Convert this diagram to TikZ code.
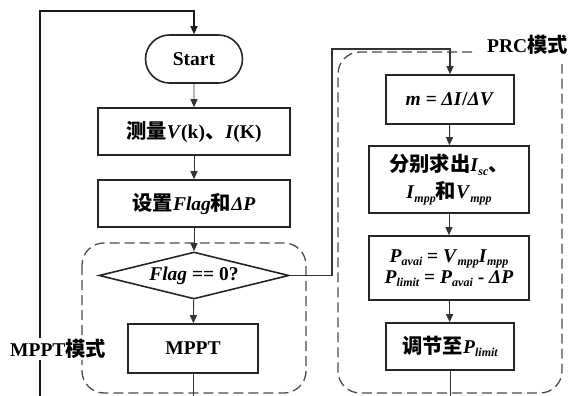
\documentclass[tikz,border=0pt]{standalone}
\usepackage{fontspec}
\setmainfont{Liberation Serif}
\newfontfamily\zhf{Noto Sans CJK SC}[Scale=1.04]
\usetikzlibrary{shapes.geometric,shapes.misc,arrows.meta}
\newcommand\zh[1]{{\zhf\bfseries #1}}
\newcommand\dn[1]{\raisebox{-0.4ex}{\fontsize{12}{12}\selectfont\bfseries\itshape #1}}
\newcommand\iv[1]{\textbf{\textit{#1}}}
\begin{document}
\begin{tikzpicture}[x=1pt,y=-1pt,
  every node/.style={font=\fontsize{19.5}{22}\selectfont\bfseries},
  box/.style={draw=black!85,line width=1.6pt,rectangle,inner sep=0pt,align=center},
  term/.style={draw=black!85,line width=1.6pt,rounded rectangle,inner sep=0pt},
  dec/.style={draw=black!85,line width=1.6pt,diamond,shape aspect=4,inner sep=0pt},
  conn/.style={line width=0.9pt,draw=black!80},
  arr/.style={conn,-{Triangle[length=8pt,width=7pt]}},
  zone/.style={draw=black!70,line width=1.3pt,dash pattern=on 10pt off 5pt,rounded corners=22pt},
  lbl/.style={inner sep=1pt,fill=white}
]
\useasboundingbox (0,0) rectangle (568,396);
% dashed zones
\draw[zone] (82,243) rectangle (306,393);
\draw[zone] (472,52) -- (338,52) -- (338,393) -- (562,393) -- (562,64);
% main column
\node[term,minimum width=97pt,minimum height=48pt] (start) at (194,59) {Start};
\node[box,minimum width=192pt,minimum height=47pt] (b1) at (194,131.5) {\zh{测量}\iv{V}(k)\zh{、}\iv{I}(K)};
\node[box,minimum width=192pt,minimum height=47pt] (b2) at (194,203.5) {\zh{设置}\iv{Flag}\zh{和}\iv{ΔP}};
\node[dec,minimum width=190pt,minimum height=47pt] (dia) at (194,275.5) {\iv{Flag} == 0?};
\node[box,minimum width=130pt,minimum height=49pt] (mppt) at (193,348.5) {MPPT};
% PRC column
\node[box,minimum width=128pt,minimum height=49pt] (m) at (450,99.5) {\iv{m} = \iv{ΔI}/\iv{ΔV}};
\node[box,minimum width=160pt,minimum height=67pt,font=\fontsize{19.5}{27}\selectfont\bfseries] (fb) at (449,179.5) {\zh{分别求出}\iv{I}\dn{sc}\zh{、}\\\iv{I}\dn{mpp}\zh{和}\iv{V}\dn{mpp}};
\node[box,minimum width=160pt,minimum height=64pt,font=\fontsize{19.5}{21}\selectfont\bfseries] (pb) at (449,268) {\iv{P}\dn{avai} = \iv{V}\dn{mpp}\iv{I}\dn{mpp}\\\iv{P}\dn{limit} = \iv{P}\dn{avai} - \iv{ΔP}};
\node[box,minimum width=128pt,minimum height=47pt] (tj) at (450,346.5) {\zh{调节至}\iv{P}\dn{limit}};
% coordinates
\coordinate (loopb) at (40,396);
\coordinate (mpptb) at (193,396);
\coordinate (tjb) at (450,396);
% connectors
\draw[arr,line width=1.2pt,draw=black!90] (loopb) -- (40,11) -| (start.north);
\draw[arr] (start) -- (b1);
\draw[arr] (b1) -- (b2);
\draw[arr] (b2) -- (dia);
\draw[arr] (dia) -- (mppt);
\draw[conn] (mppt) -- (mpptb);
\draw[arr,line width=1.1pt] (dia.east) -- (332,275.5) -- (332,49) -| (m.north);
\draw[arr] (m) -- (fb);
\draw[arr] (fb) -- (pb);
\draw[arr] (pb) -- (tj);
\draw[conn] (tj) -- (tjb);
% zone labels
\node[lbl,anchor=west] (prcl) at (486,45) {PRC\zh{模式}};
\node[lbl,anchor=west] (mpptl) at (9,349) {MPPT\zh{模式}};
\end{tikzpicture}
\end{document}
